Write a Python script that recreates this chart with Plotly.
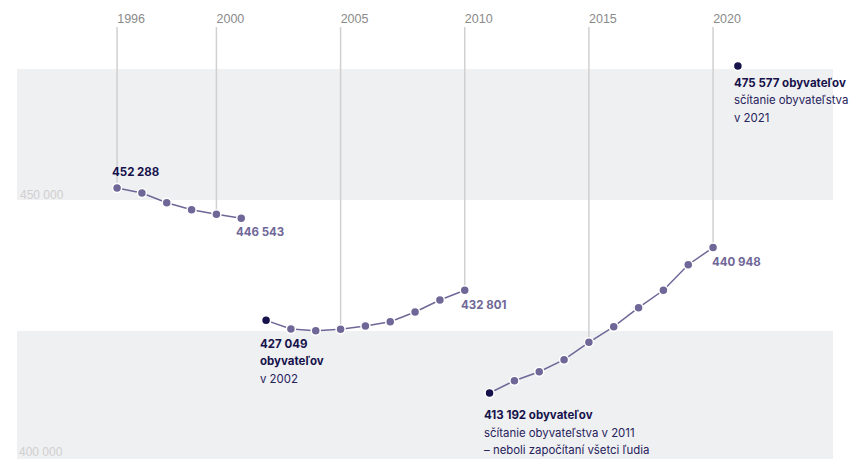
import plotly.graph_objects as go

# Population estimates, three separate series
years_a = [1996, 1997, 1998, 1999, 2000, 2001]
pop_a = [452288, 451348, 449498, 448163, 447285, 446543]

years_b = [2002, 2003, 2004, 2005, 2006, 2007, 2008, 2009, 2010]
pop_b = [427049, 425402, 425077, 425344, 425974, 426795, 428645, 430934, 432801]

years_c = [2011, 2012, 2013, 2014, 2015, 2016, 2017, 2018, 2019, 2020]
pop_c = [413192, 415538, 417255, 419544, 422863, 425843, 429466, 432785, 437668, 440948]

# Census results
census_years = [2002, 2011, 2021]
census_pop = [427049, 413192, 475577]

tick_years = [1996, 2000, 2005, 2010, 2015, 2020]
y_ticks = [400000, 450000]
y_tick_text = ["400 000", "450 000"]
band_ranges = [(400000, 425000), (450000, 475000)]

X_RANGE = [1991.97, 2024.83]
Y_RANGE = [400599, 483017]

LINE = "#6f6797"
NAVY = "#16124b"
TEXT_NAVY = "#26225c"
GRID = "#d0d0d0"
FONT = "Inter"
BOLD_SIZE = 11.5
TEXT_SIZE = 11.4
Y_LABEL_COLOR = "#cfcfcf"

all_years = years_a + years_b + years_c
all_pop = pop_a + pop_b + pop_c
lookup = dict(zip(all_years, all_pop))

fig = go.Figure()

# vertical guide lines from the top down to each labelled year
gx, gy = [], []
for yr in tick_years:
    gx += [yr, yr, None]
    gy += [lookup[yr], Y_RANGE[1], None]
fig.add_trace(go.Scatter(x=gx, y=gy, mode="lines",
                         line=dict(color=GRID, width=1.5),
                         hoverinfo="skip", showlegend=False))

for xs, ys in [(years_a, pop_a), (years_b, pop_b), (years_c, pop_c)]:
    fig.add_trace(go.Scatter(
        x=xs, y=ys, mode="lines+markers",
        line=dict(color=LINE, width=1.5),
        marker=dict(size=9, color=LINE, line=dict(color="white", width=1.5)),
        showlegend=False))

fig.add_trace(go.Scatter(
    x=census_years, y=census_pop, mode="markers",
    marker=dict(size=9, color=NAVY, line=dict(color="white", width=1.5)),
    showlegend=False))

for lo, hi in band_ranges:
    fig.add_shape(type="rect", xref="x domain", yref="y", x0=0, x1=1,
                  y0=lo, y1=hi, fillcolor="#eff0f2", line_width=0,
                  layer="below")

# the 400 000 line sits just under the bottom edge, so its label is
# placed against the bottom of the plot area
for val, txt in zip(y_ticks, y_tick_text):
    if val < Y_RANGE[0]:
        fig.add_annotation(
            x=0, y=0, xref="x domain", yref="y domain", text=txt,
            showarrow=False, xanchor="left", yanchor="middle",
            xshift=0, yshift=7,
            font=dict(family="Liberation Sans", size=12, color=Y_LABEL_COLOR))


def fmt(v):
    return f"{v:,}".replace(",", " ")


def note(x, y, text, xs, ys, color, bold):
    fig.add_annotation(
        x=x, y=y, xref="x", yref="y", text=f"<b>{text}</b>" if bold else text,
        showarrow=False, xanchor="left", yanchor="middle",
        xshift=xs - 2, yshift=ys,
        font=dict(family=FONT, size=BOLD_SIZE if bold else TEXT_SIZE,
                  color=color))


# start / end values of each estimate series
note(years_a[0], pop_a[0], fmt(pop_a[0]), -5, 16, NAVY, True)
note(years_a[-1], pop_a[-1], fmt(pop_a[-1]), -5, -14, LINE, True)
note(years_b[-1], pop_b[-1], fmt(pop_b[-1]), -4, -15, LINE, True)
note(years_c[-1], pop_c[-1], fmt(pop_c[-1]), -1, -14, LINE, True)

# census notes
c02, c11, c21 = census_pop
note(2002, c02, fmt(c02), -6, -24, NAVY, True)
note(2002, c02, "obyvateľov", -6, -41, NAVY, True)
note(2002, c02, "v 2002", -6, -59, TEXT_NAVY, False)

note(2011, c11, f"{fmt(c11)} obyvateľov", -6, -22, NAVY, True)
note(2011, c11, "sčítanie obyvateľstva v 2011", -6, -40, TEXT_NAVY, False)
note(2011, c11, "– neboli započítaní všetci ľudia", -6, -57, TEXT_NAVY, False)

note(2021, c21, f"{fmt(c21)} obyvateľov", -4, -17, NAVY, True)
note(2021, c21, "sčítanie obyvateľstva", -4, -34, TEXT_NAVY, False)
note(2021, c21, "v 2021", -4, -52, TEXT_NAVY, False)

fig.update_layout(
    width=854, height=459,
    margin=dict(l=17, r=21, t=27, b=0),
    paper_bgcolor="white", plot_bgcolor="white",
    hovermode=False,
    xaxis=dict(range=X_RANGE, side="top", tickvals=tick_years,
               showgrid=False, zeroline=False, showline=False, ticks="",
               ticklabelshift=14, ticklabelstandoff=1,
               tickfont=dict(family="Liberation Sans", size=12.5, color="#8a8a8a")),
    yaxis=dict(range=Y_RANGE, tickvals=y_ticks, ticktext=y_tick_text,
               ticklabelposition="inside top", ticklabelshift=3,
               showgrid=False, zeroline=False, showline=False, ticks="",
               tickfont=dict(family="Liberation Sans", size=12, color=Y_LABEL_COLOR)),
)

fig.write_html("out.html")
